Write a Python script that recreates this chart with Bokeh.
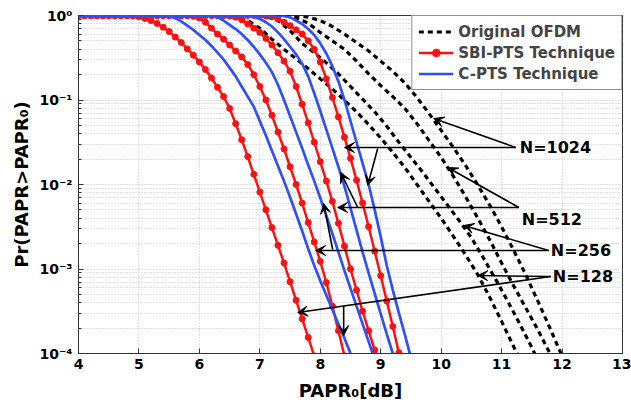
from bokeh.plotting import figure
from bokeh.models import (FixedTicker, Legend, LegendItem, Arrow, VeeHead, Label)
from bokeh.embed import file_html
from bokeh.resources import INLINE

FONT = "DejaVu Sans"

# ---------------- data ----------------
# common PAPR0 grid (dB) for SBI-PTS and C-PTS curves
PAPR0_GRID = [4.0, 4.1, 4.2, 4.3, 4.4, 4.5, 4.6, 4.7, 4.8, 4.9, 5.0, 5.1, 5.2, 5.3,
              5.4, 5.5, 5.6, 5.7, 5.8, 5.9, 6.0, 6.1, 6.2, 6.3, 6.4, 6.5, 6.6, 6.7,
              6.8, 6.9, 7.0, 7.1, 7.2, 7.3, 7.4, 7.5, 7.6, 7.7, 7.8, 7.9, 8.0, 8.1,
              8.2, 8.3, 8.4, 8.5, 8.6, 8.7, 8.8, 8.9, 9.0, 9.1, 9.2, 9.3, 9.4, 9.5]

# log10 of CCDF, SBI-PTS technique
SBI_LOG_N128 = [0, 0, 0, 0, 0, 0, 0, 0, 0, -0.005, -0.015, -0.035, -0.06, -0.095, -0.14,
                -0.19, -0.255, -0.32, -0.395, -0.47, -0.55, -0.64, -0.74, -0.85, -0.96,
                -1.1, -1.28, -1.47, -1.67, -1.88, -2.09, -2.3, -2.51, -2.72, -2.93,
                -3.15, -3.37, -3.59, -3.81, -4.03]
SBI_LOG_N256 = [0, 0, 0, 0, 0, 0, 0, 0, 0, 0, 0, 0, 0, 0, 0, 0, 0, 0, 0, -0.01, -0.03,
                -0.08, -0.15, -0.22, -0.28, -0.35, -0.42, -0.49, -0.58, -0.7, -0.84, -1.0,
                -1.18, -1.38, -1.58, -1.79, -2.0, -2.22, -2.45, -2.68, -2.91, -3.16,
                -3.44, -3.73, -4.03]
SBI_LOG_N512 = [0, 0, 0, 0, 0, 0, 0, 0, 0, 0, 0, 0, 0, 0, 0, 0, 0, 0, 0, 0, 0, 0, 0, 0,
                0, -0.005, -0.02, -0.05, -0.1, -0.15, -0.2, -0.27, -0.35, -0.44, -0.54,
                -0.66, -0.84, -1.05, -1.27, -1.5, -1.73, -1.96, -2.2, -2.46, -2.73, -3.0,
                -3.25, -3.5, -3.73, -3.96, -4.18]
SBI_LOG_N1024 = [0, 0, 0, 0, 0, 0, 0, 0, 0, 0, 0, 0, 0, 0, 0, 0, 0, 0, 0, 0, 0, 0, 0,
                 0, 0, 0, 0, 0, 0, 0, 0, -0.005, -0.015, -0.04, -0.08, -0.12, -0.17,
                 -0.22, -0.3, -0.4, -0.55, -0.75, -0.97, -1.2, -1.44, -1.69, -1.95, -2.22,
                 -2.5, -2.79, -3.08, -3.38, -3.68, -3.99, -4.25]

# log10 of CCDF, C-PTS technique
CPTS_LOG_N128 = [0, 0, 0, 0, 0, 0, 0, 0, 0, 0, 0, 0, 0, 0, 0, -0.01, -0.03, -0.07, -0.12,
                 -0.17, -0.23, -0.29, -0.36, -0.44, -0.52, -0.62, -0.72, -0.84, -0.96,
                 -1.08, -1.25, -1.42, -1.6, -1.78, -1.96, -2.15, -2.35, -2.55, -2.76,
                 -2.96, -3.14, -3.31, -3.48, -3.65, -3.82, -4.0, -4.17]
CPTS_LOG_N256 = [0, 0, 0, 0, 0, 0, 0, 0, 0, 0, 0, 0, 0, 0, 0, 0, 0, 0, 0, 0, 0, 0,
                 -0.005, -0.02, -0.06, -0.11, -0.16, -0.22, -0.29, -0.37, -0.46, -0.56,
                 -0.67, -0.82, -1.0, -1.19, -1.38, -1.57, -1.77, -1.96, -2.16, -2.37,
                 -2.58, -2.8, -3.02, -3.23, -3.44, -3.65, -3.86, -4.07]
CPTS_LOG_N512 = [0, 0, 0, 0, 0, 0, 0, 0, 0, 0, 0, 0, 0, 0, 0, 0, 0, 0, 0, 0, 0, 0, 0,
                 0, 0, 0, 0, 0, -0.005, -0.015, -0.04, -0.08, -0.13, -0.2, -0.28, -0.37,
                 -0.46, -0.57, -0.72, -0.92, -1.13, -1.35, -1.57, -1.79, -2.02, -2.28,
                 -2.54, -2.8, -3.05, -3.29, -3.53, -3.77, -4.0, -4.2]
CPTS_LOG_N1024 = [0, 0, 0, 0, 0, 0, 0, 0, 0, 0, 0, 0, 0, 0, 0, 0, 0, 0, 0, 0, 0, 0, 0,
                  0, 0, 0, 0, 0, 0, 0, 0, 0, 0, 0, -0.005, -0.02, -0.06, -0.1, -0.16,
                  -0.23, -0.33, -0.45, -0.6, -0.78, -1.0, -1.25, -1.5, -1.75, -2.0, -2.3,
                  -2.62, -2.96, -3.25, -3.52, -3.78, -4.05]

# Original OFDM
ORIG_X_N128 = [4.0, 6.4, 6.6, 6.8, 7.0, 7.2, 7.4, 7.6, 7.8, 8.0, 8.2, 8.4, 8.6, 8.8, 9.0,
               9.2, 9.4, 9.6, 9.8, 10.0, 10.2, 10.4, 10.6, 10.8, 11.0, 11.2, 11.3]
ORIG_LOG_N128 = [0, 0, -0.02, -0.06, -0.15, -0.28, -0.4, -0.51, -0.63, -0.75, -0.87, -1.0,
                 -1.14, -1.29, -1.45, -1.62, -1.8, -2.0, -2.2, -2.4, -2.61, -2.83, -3.06,
                 -3.33, -3.62, -3.92, -4.06]
ORIG_X_N256 = [4.0, 6.9, 7.1, 7.3, 7.5, 7.7, 7.9, 8.1, 8.3, 8.5, 8.7, 8.9, 9.1, 9.3, 9.5,
               9.7, 9.9, 10.1, 10.3, 10.5, 10.7, 10.9, 11.1, 11.3, 11.5, 11.6]
ORIG_LOG_N256 = [0, 0, -0.01, -0.06, -0.18, -0.33, -0.44, -0.56, -0.69, -0.84, -0.99,
                 -1.14, -1.31, -1.5, -1.68, -1.86, -2.05, -2.24, -2.43, -2.63, -2.87,
                 -3.12, -3.38, -3.65, -3.93, -4.08]
ORIG_X_N512 = [4.0, 7.4, 7.6, 7.8, 8.0, 8.2, 8.4, 8.6, 8.8, 9.0, 9.2, 9.4, 9.6, 9.8, 10.0,
               10.2, 10.4, 10.6, 10.8, 11.0, 11.2, 11.4, 11.6, 11.8, 11.9]
ORIG_LOG_N512 = [0, 0, -0.03, -0.09, -0.2, -0.3, -0.4, -0.54, -0.69, -0.83, -0.96, -1.1,
                 -1.28, -1.48, -1.68, -1.9, -2.14, -2.39, -2.65, -2.93, -3.2, -3.46,
                 -3.72, -4.0, -4.12]
ORIG_X_N1024 = [4.0, 7.6, 7.8, 8.0, 8.2, 8.4, 8.6, 8.8, 9.0, 9.2, 9.4, 9.6, 9.8, 10.0,
                10.2, 10.4, 10.6, 10.8, 11.0, 11.2, 11.4, 11.6, 11.8, 12.0]
ORIG_LOG_N1024 = [0, 0, -0.02, -0.06, -0.13, -0.22, -0.32, -0.42, -0.54, -0.66, -0.8,
                  -0.97, -1.16, -1.36, -1.56, -1.77, -2.0, -2.24, -2.5, -2.78, -3.07,
                  -3.38, -3.7, -4.03]

# axis ticks
X_TICKS = [4, 5, 6, 7, 8, 9, 10, 11, 12, 13]
Y_TICKS = [1e-4, 1e-3, 1e-2, 1e-1, 1.0]
Y_TICK_LABELS = ["10⁻⁴", "10⁻³", "10⁻²", "10⁻¹", "10⁰"]

# annotations: labels and arrows (x in dB, y as log10 probability)
ANNOT_TEXT = ["N=1024", "N=512", "N=256", "N=128"]
ANNOT_X = [11.30, 11.334, 11.815, 11.848]
ANNOT_LOG = [-1.562, -2.414, -2.781, -3.089]
ARROW_X0 = [11.235, 11.235, 8.95, 11.285, 11.285, 8.62, 11.78, 11.78, 8.205, 11.815, 11.815, 8.387]
ARROW_LOG0 = [-1.562, -1.562, -1.574, -2.272, -2.272, -2.272, -2.781, -2.781, -2.769, -3.089, -3.089, -3.438]
ARROW_X1 = [9.877, 8.40, 8.785, 10.109, 8.288, 8.338, 10.374, 7.924, 8.056, 10.606, 7.626, 8.387]
ARROW_LOG1 = [-1.219, -1.562, -2.01, -1.799, -2.272, -1.858, -2.485, -2.781, -2.225, -3.077, -3.515, -3.787]

# ---------------- figure ----------------
p = figure(width=631, height=419, x_range=(4, 13), y_range=(1e-4, 1),
           y_axis_type="log", output_backend="svg", toolbar_location=None,
           min_border_left=78, min_border_right=9, min_border_top=15, min_border_bottom=66)
p.background_fill_color = "white"
p.border_fill_color = "white"
p.outline_line_color = "#333333"
p.outline_line_width = 1

p.xaxis.ticker = FixedTicker(ticks=X_TICKS)
minor = []
for m in [1e-4, 1e-3, 1e-2, 1e-1]:
    for k in range(2, 10):
        minor.append(k * m)
p.yaxis.ticker = FixedTicker(ticks=Y_TICKS, minor_ticks=minor)
p.yaxis.major_label_overrides = {t: s for t, s in zip(Y_TICKS, Y_TICK_LABELS)}

for ax in (p.xaxis, p.yaxis):
    ax.axis_line_color = "#333333"
    ax.major_tick_line_color = "#333333"
    ax.minor_tick_line_color = "#333333"
    ax.major_tick_in = 5
    ax.major_tick_out = 0
    ax.minor_tick_in = 3
    ax.minor_tick_out = 0
    ax.major_label_text_font = FONT
    ax.major_label_text_font_style = "bold"
    ax.major_label_text_font_size = "14px"
    ax.major_label_text_color = "black"
    ax.axis_label_text_font = FONT
    ax.axis_label_text_font_style = "bold"
    ax.axis_label_text_font_size = "18px"
    ax.axis_label_text_color = "black"
p.xaxis.minor_tick_line_color = None
p.xaxis.major_label_standoff = 5
p.xaxis.axis_label = "PAPR₀[dB]"
p.xaxis.axis_label_standoff = 8
p.yaxis.axis_label = "Pr(PAPR>PAPR₀)"
p.yaxis.major_label_standoff = 6
p.yaxis.axis_label_standoff = 4

GRID_COLOR = "#c4c4c4"
p.xgrid.grid_line_color = GRID_COLOR
p.xgrid.grid_line_dash = "1 2"
p.ygrid.grid_line_color = GRID_COLOR
p.ygrid.grid_line_dash = "1 2"
p.ygrid.minor_grid_line_color = GRID_COLOR
p.ygrid.minor_grid_line_dash = "1 2"

BLACK = "black"
RED = "#ff1010"
BLUE = "#2f4fff"

orig_sets = [(ORIG_X_N128, ORIG_LOG_N128), (ORIG_X_N256, ORIG_LOG_N256),
             (ORIG_X_N512, ORIG_LOG_N512), (ORIG_X_N1024, ORIG_LOG_N1024)]
orig_r = None
for xs, lg in orig_sets:
    ys = [10 ** v for v in lg]
    orig_r = p.line(xs, ys, line_color=BLACK, line_width=3.2, line_dash="5 4")

red_line = red_mark = None
for lg in [SBI_LOG_N128, SBI_LOG_N256, SBI_LOG_N512, SBI_LOG_N1024]:
    xs = PAPR0_GRID[:len(lg)]
    ys = [10 ** v for v in lg]
    red_line = p.line(xs, ys, line_color=RED, line_width=2.5)
    red_mark = p.scatter(xs, ys, marker="circle", size=6, fill_color=RED, line_color=RED)

blue_r = None
for lg in [CPTS_LOG_N128, CPTS_LOG_N256, CPTS_LOG_N512, CPTS_LOG_N1024]:
    xs = PAPR0_GRID[:len(lg)]
    ys = [10 ** v for v in lg]
    blue_r = p.line(xs, ys, line_color=BLUE, line_width=2.7)

# arrows and labels
for x0, l0, x1, l1 in zip(ARROW_X0, ARROW_LOG0, ARROW_X1, ARROW_LOG1):
    p.add_layout(Arrow(x_start=x0, y_start=10 ** l0, x_end=x1, y_end=10 ** l1,
                       line_color="black", line_width=1.6,
                       end=VeeHead(size=10, fill_color="black", line_color="black",
                                   line_width=1)))
for t, x, l in zip(ANNOT_TEXT, ANNOT_X, ANNOT_LOG):
    p.add_layout(Label(x=x, y=10 ** l, text=t, text_font=FONT, text_font_style="bold",
                       text_font_size="16px", text_baseline="middle", text_align="left",
                       text_color="black"))

legend = Legend(items=[
    LegendItem(label="Original OFDM", renderers=[orig_r]),
    LegendItem(label="SBI-PTS Technique", renderers=[red_line, red_mark]),
    LegendItem(label="C-PTS Technique", renderers=[blue_r]),
], location="top_right")
legend.margin = 0
legend.padding = 6
legend.spacing = 2
legend.glyph_width = 35
legend.glyph_height = 19
legend.label_height = 19
legend.label_standoff = 5
legend.label_text_font = FONT
legend.label_text_font_style = "bold"
legend.label_text_font_size = "15px"
legend.border_line_color = "#222222"
legend.border_line_width = 1
legend.background_fill_alpha = 1
p.add_layout(legend)

open("out.html", "w").write(file_html(p, INLINE))
